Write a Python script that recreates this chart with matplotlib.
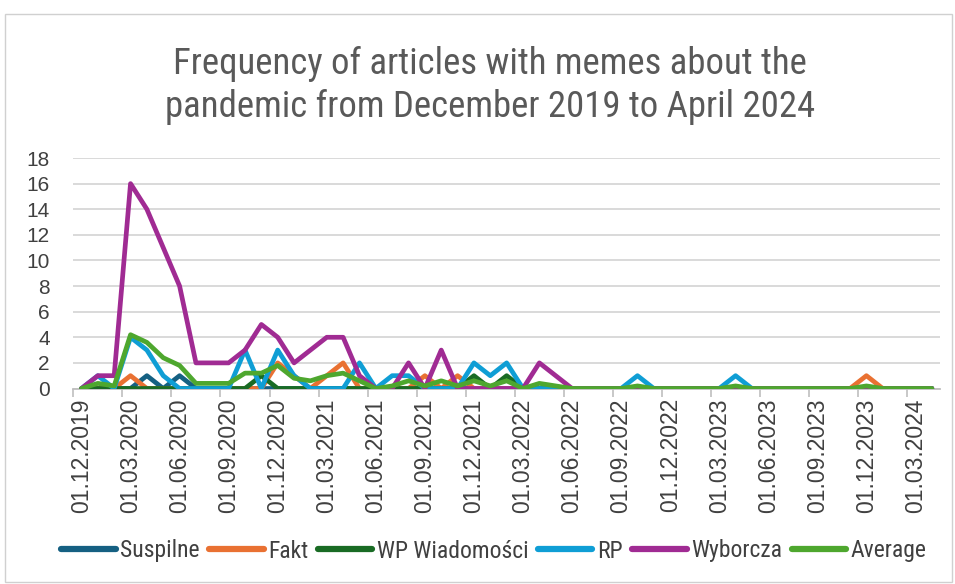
import matplotlib
matplotlib.use("Agg")
import matplotlib.pyplot as plt
from matplotlib import font_manager as fm
from matplotlib.patches import Rectangle
import numpy as np

# ---------------- data ----------------
months = ["01.12.2019", "01.01.2020", "01.02.2020", "01.03.2020", "01.04.2020", "01.05.2020",
          "01.06.2020", "01.07.2020", "01.08.2020", "01.09.2020", "01.10.2020", "01.11.2020",
          "01.12.2020", "01.01.2021", "01.02.2021", "01.03.2021", "01.04.2021", "01.05.2021",
          "01.06.2021", "01.07.2021", "01.08.2021", "01.09.2021", "01.10.2021", "01.11.2021",
          "01.12.2021", "01.01.2022", "01.02.2022", "01.03.2022", "01.04.2022", "01.05.2022",
          "01.06.2022", "01.07.2022", "01.08.2022", "01.09.2022", "01.10.2022", "01.11.2022",
          "01.12.2022", "01.01.2023", "01.02.2023", "01.03.2023", "01.04.2023", "01.05.2023",
          "01.06.2023", "01.07.2023", "01.08.2023", "01.09.2023", "01.10.2023", "01.11.2023",
          "01.12.2023", "01.01.2024", "01.02.2024", "01.03.2024", "01.04.2024"]

suspilne = [0, 0, 0, 0, 1, 0, 1, 0, 0, 0, 0, 0, 0, 0, 0, 0, 0, 0, 0, 0, 0, 0, 0, 0, 0, 0, 0,
            0, 0, 0, 0, 0, 0, 0, 0, 0, 0, 0, 0, 0, 0, 0, 0, 0, 0, 0, 0, 0, 0, 0, 0, 0, 0]
fakt = [0, 0, 0, 1, 0, 0, 0, 0, 0, 0, 0, 0, 2, 1, 0, 1, 2, 0, 0, 0, 0, 1, 0, 1, 0, 0, 0,
        0, 0, 0, 0, 0, 0, 0, 0, 0, 0, 0, 0, 0, 0, 0, 0, 0, 0, 0, 0, 0, 1, 0, 0, 0, 0]
wp = [0, 0, 0, 0, 0, 0, 0, 0, 0, 0, 0, 1, 0, 0, 0, 0, 0, 0, 0, 0, 0, 0, 0, 0, 1, 0, 1,
      0, 0, 0, 0, 0, 0, 0, 0, 0, 0, 0, 0, 0, 0, 0, 0, 0, 0, 0, 0, 0, 0, 0, 0, 0, 0]
rp = [0, 1, 0, 4, 3, 1, 0, 0, 0, 0, 3, 0, 3, 1, 0, 0, 0, 2, 0, 1, 1, 0, 0, 0, 2, 1, 2,
      0, 0, 0, 0, 0, 0, 0, 1, 0, 0, 0, 0, 0, 1, 0, 0, 0, 0, 0, 0, 0, 0, 0, 0, 0, 0]
wyborcza = [0, 1, 1, 16, 14, 11, 8, 2, 2, 2, 3, 5, 4, 2, 3, 4, 4, 1, 0, 0, 2, 0, 3, 0, 0, 0, 0,
            0, 2, 1, 0, 0, 0, 0, 0, 0, 0, 0, 0, 0, 0, 0, 0, 0, 0, 0, 0, 0, 0, 0, 0, 0, 0]
average = [0, 0.4, 0.2, 4.2, 3.6, 2.4, 1.8, 0.4, 0.4, 0.4, 1.2, 1.2, 1.8, 0.8, 0.6, 1.0, 1.2,
           0.6, 0, 0.2, 0.6, 0.2, 0.6, 0.2, 0.6, 0.2, 0.6, 0, 0.4, 0.2, 0, 0, 0, 0, 0.2, 0,
           0, 0, 0, 0, 0.2, 0, 0, 0, 0, 0, 0, 0, 0.2, 0, 0, 0, 0]

series_names = ["Suspilne", "Fakt", "WP Wiadomości", "RP", "Wyborcza", "Average"]
series_colors = ["#156082", "#E97132", "#196B24", "#0F9ED5", "#A02B93", "#4EA72E"]
yticks = [0, 2, 4, 6, 8, 10, 12, 14, 16, 18]
title_lines = ["Frequency of articles with memes about the",
               "pandemic from December 2019 to April 2024"]


def pick(names):
    for n in names:
        try:
            fm.findfont(fm.FontProperties(family=n), fallback_to_default=False)
            return n
        except Exception:
            pass
    return "DejaVu Sans"


narrow = pick(["Liberation Sans Narrow", "Roboto Condensed", "Roboto"])
regular = pick(["Liberation Sans", "Arimo", "DejaVu Sans"])

W, H = 955, 584
fig = plt.figure(figsize=(W / 100, H / 100), dpi=100)
fig.patch.set_facecolor("white")

# outer frame
fig.patches.append(Rectangle((5 / W, 2 / H), (W - 8) / W, (H - 16) / H,
                             transform=fig.transFigure, fill=False,
                             edgecolor="#D0D0D0", lw=1.0))

L, R, T, B = 73.3, 940.0, 158.0, 388.5
ax = fig.add_axes([L / W, 1 - B / H, (R - L) / W, (B - T) / H])

x = np.arange(len(months))
data = [suspilne, fakt, wp, rp, wyborcza, average]
for name, col, vals in zip(series_names, series_colors, data):
    ax.plot(x, vals, color=col, lw=3.4, solid_joinstyle="round",
            solid_capstyle="round", label=name, zorder=3)

ax.set_xlim(-0.5, len(months) - 0.5)
ax.set_ylim(0, 18)
ax.set_yticks(yticks)
ax.set_yticklabels([str(v) for v in yticks], fontsize=15, color="#404040",
                   family=[regular, "DejaVu Sans"])
ax.tick_params(axis="y", length=0, pad=17)
ax.grid(axis="y", color="#D9D9D9", lw=1.4, zorder=0)

lab_idx = list(range(0, len(months), 3))
ax.set_xticks(lab_idx)
ax.set_xticklabels([months[i] for i in lab_idx], rotation=90, fontsize=16.5,
                   color="#404040", family=[regular, "DejaVu Sans"])
ax.tick_params(axis="x", which="major", length=0, pad=7)
ax.set_xticks([i - 0.5 for i in lab_idx], minor=True)
ax.tick_params(axis="x", which="minor", length=6, width=1.2, color="#BFBFBF")

for s in ["top", "right", "left"]:
    ax.spines[s].set_visible(False)
ax.spines["bottom"].set_color("#BFBFBF")
ax.spines["bottom"].set_linewidth(1.3)
ax.set_axisbelow(True)

fig.text(490 / W, 1 - 74 / H, title_lines[0], ha="center", va="baseline",
         fontsize=26.5, color="#595959", family=[narrow, "DejaVu Sans"])
fig.text(490 / W, 1 - 117 / H, title_lines[1], ha="center", va="baseline",
         fontsize=26.5, color="#595959", family=[narrow, "DejaVu Sans"])

leg = fig.legend(loc="center", bbox_to_anchor=(494 / W, 1 - 551 / H), ncol=6,
                 frameon=False, handlelength=2.3, handletextpad=0.2,
                 columnspacing=0.4, prop={"family": [narrow, "DejaVu Sans"], "size": 17})
for line in leg.get_lines():
    line.set_linewidth(4.5)
for t in leg.get_texts():
    t.set_color("#404040")

fig.savefig("out.png", dpi=100, facecolor="white")
